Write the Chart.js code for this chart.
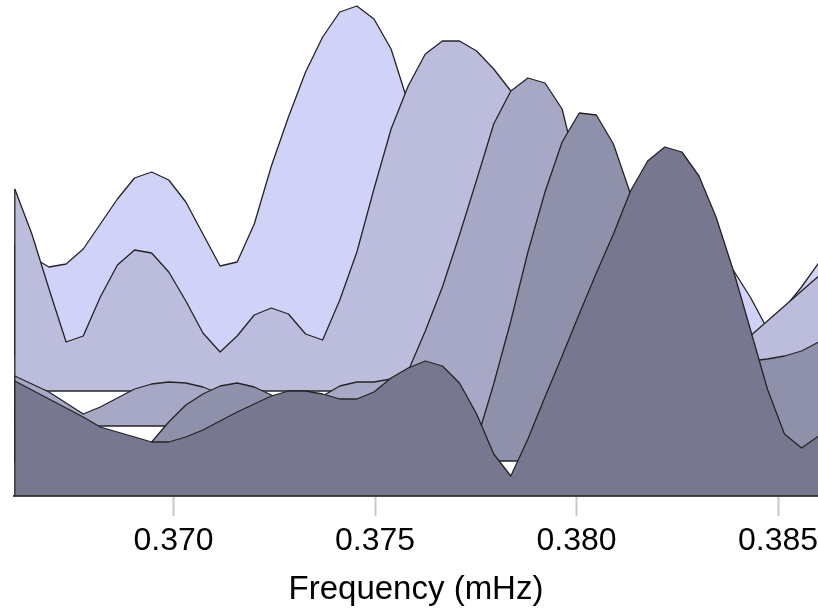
<!DOCTYPE html>
<html>
<head>
<meta charset="utf-8">
<script src="https://cdn.jsdelivr.net/npm/chart.js@4.4.1/dist/chart.umd.min.js"></script>
<style>
  html, body { margin: 0; padding: 0; background: #ffffff; }
  #wrap { width: 818px; height: 616px; position: relative; }
</style>
</head>
<body>
<div id="wrap"><canvas id="chart"></canvas></div>
<script>
// Frequency bins (mHz)
const frequency = [0.366060, 0.366484, 0.366909, 0.367333, 0.367758, 0.368182, 0.368606, 0.369031,
  0.369455, 0.369880, 0.370304, 0.370728, 0.371153, 0.371577, 0.372002, 0.372426,
  0.372850, 0.373275, 0.373699, 0.374124, 0.374548, 0.374972, 0.375397, 0.375821,
  0.376246, 0.376670, 0.377094, 0.377519, 0.377943, 0.378368, 0.378792, 0.379216,
  0.379641, 0.380065, 0.380490, 0.380914, 0.381338, 0.381763, 0.382187, 0.382612,
  0.383036, 0.383460, 0.383885, 0.384309, 0.384734, 0.385158, 0.385582, 0.386007];

// Stacked spectra (back to front), values include each ridge's baseline offset
const power1 = [50.4, 47.8, 45.8, 46.4, 49.4, 54.4, 59.4, 63.6, 64.8, 63.2,
  58.8, 52.4, 46.0, 46.8, 54.4, 66.0, 75.8, 84.8, 91.8, 96.8,
  98.0, 95.4, 89.4, 78.6, 69.4, 61.4, 56.4, 53.4, 51.4, 50.8,
  50.2, 49.6, 49.0, 48.8, 48.6, 48.8, 49.2, 49.6, 50.0, 50.4,
  50.6, 48.4, 45.2, 39.8, 33.4, 37.6, 41.8, 46.6];
const power2 = [61.4, 52.4, 41.4, 30.8, 32.0, 39.8, 46.2, 49.2, 48.6, 44.8,
  39.0, 32.6, 28.8, 32.0, 36.2, 37.6, 36.4, 32.4, 31.2, 39.2,
  48.8, 61.4, 73.4, 82.0, 88.4, 91.0, 91.0, 89.0, 85.4, 81.0,
  73.4, 63.4, 53.4, 45.4, 39.4, 35.4, 31.4, 31.2, 31.0, 31.2,
  31.4, 31.6, 31.6, 32.0, 35.0, 38.0, 41.0, 44.0];
const power3 = [24.0, 22.4, 20.8, 18.6, 16.4, 17.8, 19.6, 21.4, 22.4, 22.8,
  22.6, 21.8, 20.4, 19.4, 18.8, 18.6, 18.8, 19.2, 20.0, 22.0,
  22.8, 22.8, 23.4, 25.0, 33.0, 41.8, 52.2, 63.2, 74.4, 81.0,
  83.6, 82.6, 77.4, 63.4, 49.4, 35.4, 23.4, 20.0, 19.6, 19.2,
  19.0, 18.8, 19.0, 19.4, 19.8, 20.2, 20.4, 20.6];
const power4 = [17.4, 15.4, 13.4, 12.0, 10.8, 10.0, 9.6, 9.8, 10.8, 14.8,
  18.2, 20.4, 22.0, 22.6, 21.8, 20.2, 17.4, 14.4, 12.4, 11.4,
  10.8, 10.4, 10.4, 10.4, 10.4, 10.4, 10.4, 11.0, 22.4, 35.0,
  48.8, 60.8, 70.8, 76.6, 76.2, 70.4, 60.4, 49.4, 39.4, 32.4,
  29.4, 28.0, 27.4, 27.0, 27.4, 28.0, 29.0, 30.8];
const power5 = [23.0, 21.2, 19.4, 17.6, 15.8, 13.8, 12.8, 11.8, 10.8, 10.8,
  11.8, 13.2, 15.0, 16.8, 18.4, 20.0, 21.0, 21.0, 20.4, 19.4,
  19.4, 20.8, 23.6, 25.6, 27.0, 26.0, 22.6, 16.4, 8.4, 4.0,
  11.4, 19.8, 28.0, 36.4, 44.6, 52.4, 61.0, 67.0, 69.8, 68.8,
  64.0, 55.8, 45.2, 33.4, 21.4, 12.4, 9.6, 12.0];

// Ridge baselines (offsets) for each series
const baselines = [28, 21, 14, 7, 0];
const tickValues = [0.370, 0.375, 0.380, 0.385];
const seriesNames = ['Spectrum 1', 'Spectrum 2', 'Spectrum 3', 'Spectrum 4', 'Spectrum 5'];

const seriesValues = [power1, power2, power3, power4, power5];
const fillColors = ['#d1d2f7', '#bcbddd', '#a6a8c5', '#8f91ab', '#77788f'];
const edgeColor = '#242424';

const datasets = [];
seriesValues.forEach((vals, i) => {
  const n = vals.length;
  // main filled ridge
  datasets.push({
    label: seriesNames[i],
    data: frequency.map((f, k) => ({ x: f, y: vals[k] })),
    borderColor: edgeColor,
    borderWidth: 1.3,
    borderJoinStyle: 'round',
    backgroundColor: fillColors[i],
    fill: { value: baselines[i] },
    pointRadius: 0,
    tension: 0,
    order: 2 * (4 - i) + 1
  });
  // outline of the ridge base (left edge, baseline, right edge)
  datasets.push({
    label: seriesNames[i] + ' base',
    data: [
      { x: frequency[0], y: vals[0] },
      { x: frequency[0], y: baselines[i] },
      { x: frequency[n - 1], y: baselines[i] },
      { x: frequency[n - 1], y: vals[n - 1] }
    ],
    borderColor: edgeColor,
    borderWidth: 1.3,
    fill: false,
    pointRadius: 0,
    tension: 0,
    order: 2 * (4 - i)
  });
});

new Chart(document.getElementById('chart'), {
  type: 'line',
  data: { datasets },
  options: {
    responsive: true,
    maintainAspectRatio: false,
    animation: false,
    layout: { padding: { left: 14, right: 0, top: 0, bottom: 0 } },
    plugins: {
      legend: { display: false },
      tooltip: { enabled: false }
    },
    scales: {
      x: {
        type: 'linear',
        min: 0.36604,
        max: 0.38599,
        afterBuildTicks: (scale) => { scale.ticks = tickValues.map(v => ({ value: v })); },
        afterFit: (scale) => { scale.height = 120; scale.paddingLeft = 0; scale.paddingRight = 0; },
        ticks: {
          color: '#000000',
          font: { family: 'Liberation Sans, Arial, sans-serif', size: 32 },
          padding: 6,
          maxRotation: 0,
          autoSkip: false,
          callback: (v) => Number(v).toFixed(3)
        },
        grid: {
          drawOnChartArea: false,
          drawTicks: true,
          tickLength: 20,
          tickColor: '#c8c8c8',
          tickWidth: 2
        },
        border: { display: true, color: '#4a4a4a', width: 2 },
        title: {
          display: true,
          text: 'Frequency (mHz)',
          color: '#000000',
          font: { family: 'Liberation Sans, Arial, sans-serif', size: 33 },
          padding: { top: 0, bottom: 6 }
        }
      },
      y: {
        display: false,
        min: 0,
        max: 99.2
      }
    }
  }
});
</script>
</body>
</html>
